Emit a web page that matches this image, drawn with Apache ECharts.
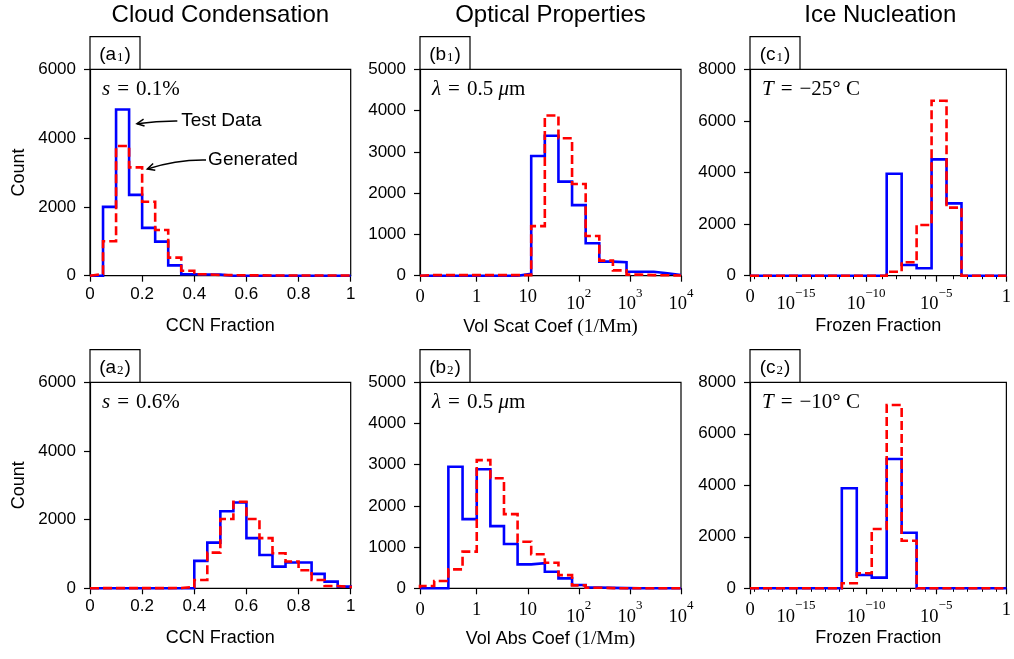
<!DOCTYPE html>
<html>
<head>
<meta charset="utf-8">
<script src="https://cdn.jsdelivr.net/npm/echarts@6/dist/echarts.min.js"></script>
<style>
  html, body { margin: 0; padding: 0; background: #fff; }
  #chart { width: 1014px; height: 659px; }
</style>
</head>
<body>
<div id="chart"></div>
<script>
// ---------- data ----------
// Cloud condensation: 20 linear bins on [0, 1]
const ccnEdges = [0, 0.05, 0.1, 0.15, 0.2, 0.25, 0.3, 0.35, 0.4, 0.45, 0.5,
                  0.55, 0.6, 0.65, 0.7, 0.75, 0.8, 0.85, 0.9, 0.95, 1];
const ccnTest01 = [0, 2000, 4830, 2350, 1390, 990, 300, 40, 35, 30, 0, 0, 0, 0, 0, 0, 0, 0, 0, 0];
const ccnGen01  = [50, 1000, 3770, 3150, 2150, 1330, 525, 145, 40, 20, 15, 10, 10, 5, 5, 5, 5, 5, 5, 5];
const ccnTest06 = [0, 0, 0, 0, 0, 0, 0, 0, 800, 1330, 2245, 2500, 1460, 970, 630, 750, 750, 420, 195, 50];
const ccnGen06  = [5, 5, 5, 5, 5, 5, 10, 40, 240, 1040, 2020, 2520, 2020, 1460, 1020, 780, 525, 240, 65, 40];

// Optical properties: linear bins below 1, log bins above (1/Mm)
const optEdges = [0, 0.25, 0.5, 0.75, 1, 1.848, 3.415, 6.31, 11.66, 21.54, 39.81,
                  73.56, 135.9, 251.2, 464.2, 857.7, 1585, 2929, 5412, 10000];
const scatTest = [0, 0, 0, 0, 0, 0, 0, 45, 2900, 3390, 2280, 1710, 785, 340, 325, 97, 97, 58, 15];
const scatGen  = [15, 15, 15, 15, 15, 15, 15, 15, 1200, 3880, 3330, 2220, 960, 364, 130, 25, 15, 10, 5];
const absTest  = [0, 0, 2950, 1680, 2890, 1510, 1075, 580, 610, 400, 240, 80, 20, 10, 5, 0, 0, 0, 0];
const absGen   = [56, 177, 460, 890, 3110, 2670, 1800, 1130, 825, 620, 320, 70, 15, 5, 0, 0, 0, 0, 0];

// Ice nucleation: frozen fraction, log bins
const frzEdges = [0, 1e-16, 1.166e-15, 1.359e-14, 1.585e-13, 1.848e-12, 2.154e-11, 2.512e-10,
                  2.929e-9, 3.415e-8, 3.981e-7, 4.642e-6, 5.412e-5, 6.310e-4, 7.356e-3, 8.577e-2, 1];
const frz25Test = [0, 0, 0, 0, 0, 0, 0, 0, 3950, 415, 287, 4510, 2805, 0, 0, 0];
const frz25Gen  = [0, 0, 0, 0, 0, 0, 0, 0, 155, 519, 1965, 6783, 2637, 0, 0, 0];
const frz10Test = [0, 0, 0, 0, 0, 3883, 516, 413, 5021, 2160, 0, 0, 0, 0, 0, 0];
const frz10Gen  = [0, 0, 0, 0, 0, 194, 582, 2303, 7118, 1849, 0, 0, 0, 0, 0, 0];

// tick positions and labels
const optTickValues = [0, 1, 10, 100, 1000, 10000];
const optTickLabels = ['0', '1', '10', '10^2', '10^3', '10^4'];
const frzTickValues = [0, 1e-15, 1e-10, 1e-5, 1];
const frzTickLabels = ['0', '10^\u221215', '10^\u221210', '10^\u22125', '1'];
const frzMinorValues = [1e-18, 1e-17, 1e-16, 1e-14, 1e-13, 1e-12, 1e-11, 1e-9, 1e-8,
                        1e-7, 1e-6, 1e-4, 1e-3, 1e-2, 1e-1];

// ---------- scales ----------
// symmetric-log style mapping: linear up to `thresh`, logarithmic beyond
function symlog(x, thresh, linSpan) {
  return x < thresh ? linSpan * x / thresh : linSpan + Math.log10(x / thresh);
}
const ident = x => x;
const optT = x => symlog(x, 1, 1 / 0.9);
const frzT = x => symlog(x, 1e-18, 0.28);

// histogram outline (histtype = step)
function stepPoints(edges, counts, T) {
  const pts = [[T(edges[0]), 0]];
  counts.forEach((c, i) => { pts.push([T(edges[i]), c], [T(edges[i + 1]), c]); });
  pts.push([T(edges[edges.length - 1]), 0]);
  return pts;
}

// ---------- styling ----------
const SANS = '"Liberation Sans", Arial, sans-serif';
const SERIF = '"Liberation Serif", "Times New Roman", serif';
const BLUE = '#0000ff', RED = '#ff0000';

const COL_LEFT = [90, 420, 750];
const COL_W = [260.7, 261, 260.5];
const ROW_TOP = [69.3, 382.3];
const ROW_H = [206.4, 206];

const tickRich = {
  p: { fontFamily: SERIF, fontSize: 18.5, lineHeight: 21, color: '#000' },
  b: { fontFamily: SERIF, fontSize: 18.5, lineHeight: 27, verticalAlign: 'bottom', color: '#000' },
  e: { fontFamily: SERIF, fontSize: 13, lineHeight: 9, verticalAlign: 'top', color: '#000' }
};
function sciLabel(lbl) {
  const parts = lbl.split('^');
  return parts.length > 1 ? `{b|${parts[0]}}{e|${parts[1]}}` : `{p|${lbl}}`;
}
function labelFor(values, labels, T) {
  const pos = values.map(T);
  return v => {
    let best = 0;
    pos.forEach((p, i) => { if (Math.abs(p - v) < Math.abs(pos[best] - v)) best = i; });
    return sciLabel(labels[best]);
  };
}

const kinds = {
  ccn: {
    T: ident, edges: ccnEdges,
    xAxis: {
      min: 0, max: 1, interval: 0.2,
      axisLabel: {
        fontFamily: SANS, fontSize: 17, color: '#000', margin: 10,
        formatter: v => (Math.abs(v) < 1e-9 ? '0' : Math.abs(v - 1) < 1e-9 ? '1' : v.toFixed(1))
      },
      name: 'CCN Fraction'
    }
  },
  opt: {
    T: optT, edges: optEdges,
    xAxis: {
      min: 0, max: optT(10000),
      axisTick: { customValues: optTickValues.map(optT) },
      axisLabel: {
        customValues: optTickValues.map(optT), margin: 11, rich: tickRich,
        formatter: labelFor(optTickValues, optTickLabels, optT)
      }
    }
  },
  frz: {
    T: frzT, edges: frzEdges,
    xAxis: {
      min: 0, max: frzT(1),
      axisTick: { customValues: frzTickValues.map(frzT) },
      axisLabel: {
        customValues: frzTickValues.map(frzT), margin: 11, rich: tickRich,
        formatter: labelFor(frzTickValues, frzTickLabels, frzT)
      },
      name: 'Frozen Fraction'
    }
  }
};

const panels = [
  { row: 0, col: 0, kind: 'ccn', tag: ['a', '1'], test: ccnTest01, gen: ccnGen01, yMax: 6000, yStep: 2000,
    note: '{i|s}{q|=}{r|0.1%}' },
  { row: 0, col: 1, kind: 'opt', tag: ['b', '1'], test: scatTest, gen: scatGen, yMax: 5000, yStep: 1000,
    note: '{i|\u03bb}{q|=}{r|0.5 }{i|\u03bc}{r|m}', xName: '{s|Vol Scat Coef }{m|(1/Mm)}' },
  { row: 0, col: 2, kind: 'frz', tag: ['c', '1'], test: frz25Test, gen: frz25Gen, yMax: 8000, yStep: 2000,
    note: '{i|T}{q|=}{r|\u221225\u00b0 C}' },
  { row: 1, col: 0, kind: 'ccn', tag: ['a', '2'], test: ccnTest06, gen: ccnGen06, yMax: 6000, yStep: 2000,
    note: '{i|s}{q|=}{r|0.6%}' },
  { row: 1, col: 1, kind: 'opt', tag: ['b', '2'], test: absTest, gen: absGen, yMax: 5000, yStep: 1000,
    note: '{i|\u03bb}{q|=}{r|0.5 }{i|\u03bc}{r|m}', xName: '{s|Vol Abs Coef }{m|(1/Mm)}' },
  { row: 1, col: 2, kind: 'frz', tag: ['c', '2'], test: frz10Test, gen: frz10Gen, yMax: 8000, yStep: 2000,
    note: '{i|T}{q|=}{r|\u221210\u00b0 C}' }
];

const columnTitles = ['Cloud Condensation', 'Optical Properties', 'Ice Nucleation'];

// ---------- option ----------
const grids = [], xAxes = [], yAxes = [], series = [];
const axisLineStyle = { color: '#000', width: 1.2 };

panels.forEach((p, i) => {
  const k = kinds[p.kind];
  grids.push({
    left: COL_LEFT[p.col], top: ROW_TOP[p.row], width: COL_W[p.col], height: ROW_H[p.row],
    show: true, borderColor: '#000', borderWidth: 1.2, containLabel: false
  });
  const xa = k.xAxis;
  xAxes.push({
    type: 'value', gridIndex: i, min: xa.min, max: xa.max, interval: xa.interval,
    axisLine: { show: true, onZero: false, lineStyle: axisLineStyle },
    axisTick: Object.assign({ show: true, length: 6, inside: false, lineStyle: axisLineStyle }, xa.axisTick || {}),
    axisLabel: Object.assign({ show: true, color: '#000' }, xa.axisLabel),
    splitLine: { show: false },
    name: p.xName || xa.name, nameLocation: 'middle', nameGap: 41,
    nameTextStyle: {
      fontFamily: SANS, fontSize: 18, color: '#000',
      rich: {
        s: { fontFamily: SANS, fontSize: 18, color: '#000' },
        m: { fontFamily: SERIF, fontSize: 19.5, color: '#000' }
      }
    }
  });
  yAxes.push({
    type: 'value', gridIndex: i, min: 0, max: p.yMax, interval: p.yStep,
    axisLine: { show: true, lineStyle: axisLineStyle },
    axisTick: { show: true, length: 6, inside: false, lineStyle: axisLineStyle },
    axisLabel: { fontFamily: SANS, fontSize: 17, color: '#000', margin: 14, formatter: v => String(v) },
    splitLine: { show: false },
    name: p.col === 0 ? 'Count' : '', nameLocation: 'middle', nameGap: 62,
    nameTextStyle: { fontFamily: SANS, fontSize: 18, color: '#000' }
  });
  const common = { type: 'line', xAxisIndex: i, yAxisIndex: i, symbol: 'none', showSymbol: false,
                   clip: false, silent: true, animation: false };
  series.push(Object.assign({}, common, {
    name: 'Test Data', data: stepPoints(k.edges, p.test, k.T),
    lineStyle: { color: BLUE, width: 2.6, join: 'miter' }, z: 3
  }));
  series.push(Object.assign({}, common, {
    name: 'Generated', data: stepPoints(k.edges, p.gen, k.T),
    lineStyle: { color: RED, width: 2.6, type: [9, 4], join: 'miter' }, z: 4
  }));
});

// decade minor ticks on the frozen-fraction axes (overlay grids)
panels.forEach((p, i) => {
  if (p.kind !== 'frz') return;
  const gi = grids.length;
  grids.push({ left: COL_LEFT[p.col], top: ROW_TOP[p.row], width: COL_W[p.col], height: ROW_H[p.row], show: false });
  const minor = frzMinorValues.map(frzT);
  xAxes.push({
    type: 'value', gridIndex: gi, min: 0, max: frzT(1),
    axisLine: { show: false },
    axisTick: { show: true, length: 3.5, customValues: minor, lineStyle: { color: '#000', width: 1 } },
    axisLabel: { show: false, customValues: minor },
    splitLine: { show: false }
  });
  yAxes.push({ type: 'value', gridIndex: gi, min: 0, max: 1, show: false });
});

const chart = echarts.init(document.getElementById('chart'));
chart.setOption({
  animation: false,
  backgroundColor: '#fff',
  grid: grids, xAxis: xAxes, yAxis: yAxes, series: series
});

// ---------- text, tags and arrows ----------
const noteRich = {
  i: { fontFamily: SERIF, fontStyle: 'italic', fontSize: 21, color: '#000' },
  q: { fontFamily: SERIF, fontSize: 21, color: '#000', padding: [0, 7, 0, 7] },
  r: { fontFamily: SERIF, fontSize: 21, color: '#000' }
};
const tagRich = {
  p: { fontFamily: SANS, fontSize: 19, lineHeight: 22, verticalAlign: 'bottom', color: '#000' },
  s: { fontFamily: SERIF, fontSize: 13, lineHeight: 10, verticalAlign: 'bottom', color: '#000', padding: [0, 1, 0, 1] }
};

const elements = [];
columnTitles.forEach((t, c) => {
  elements.push({
    type: 'text', x: COL_LEFT[c] + COL_W[c] / 2, y: 15,
    style: { text: t, fontFamily: SANS, fontSize: 24, fill: '#000', align: 'center', verticalAlign: 'middle' }
  });
});
panels.forEach(p => {
  const left = COL_LEFT[p.col], top = ROW_TOP[p.row];
  elements.push({
    type: 'rect', shape: { x: left, y: top - 32.6, width: 50, height: 32.6 },
    style: { fill: '#fff', stroke: '#000', lineWidth: 1.2 }, z: 10
  });
  elements.push({
    type: 'text', x: left + 25, y: top - 16.5, z: 11,
    style: { text: `{p|(${p.tag[0]}}{s|${p.tag[1]}}{p|)}`, rich: tagRich, align: 'center', verticalAlign: 'middle' }
  });
  elements.push({
    type: 'text', x: left + 12, y: top + 20, z: 11,
    style: { text: p.note, rich: noteRich, align: 'left', verticalAlign: 'middle' }
  });
});

// series annotations in the first panel, anchored in data coordinates
const px = v => chart.convertToPixel({ gridIndex: 0 }, v);
const annotations = [
  { text: 'Test Data', at: [0.35, 4500], tail: [0.335, 4500], head: [0.18, 4420], bend: 1.5 },
  { text: 'Generated', at: [0.453, 3360], tail: [0.445, 3360], head: [0.22, 3100], bend: 5 }
];
annotations.forEach(a => {
  const at = px(a.at), t = px(a.tail), h = px(a.head);
  elements.push({
    type: 'text', x: at[0], y: at[1], z: 11,
    style: { text: a.text, fontFamily: SANS, fontSize: 19, fill: '#000', align: 'left', verticalAlign: 'middle' }
  });
  const cp = [(t[0] + h[0]) / 2, (t[1] + h[1]) / 2 - a.bend];
  elements.push({
    type: 'bezierCurve', z: 11,
    shape: { x1: t[0], y1: t[1], x2: h[0], y2: h[1], cpx1: cp[0], cpy1: cp[1] },
    style: { stroke: '#000', lineWidth: 1.5, fill: null }
  });
  const dx = h[0] - cp[0], dy = h[1] - cp[1], len = Math.hypot(dx, dy);
  const ux = dx / len, uy = dy / len, L = 8, ang = 0.45;
  const wing = s => [h[0] - L * (ux * Math.cos(ang) - s * uy * Math.sin(ang)),
                     h[1] - L * (uy * Math.cos(ang) + s * ux * Math.sin(ang))];
  elements.push({
    type: 'polyline', z: 11,
    shape: { points: [wing(1), h, wing(-1)] },
    style: { stroke: '#000', lineWidth: 1.5, fill: null }
  });
});

chart.setOption({ graphic: { elements: elements } });
</script>
</body>
</html>
